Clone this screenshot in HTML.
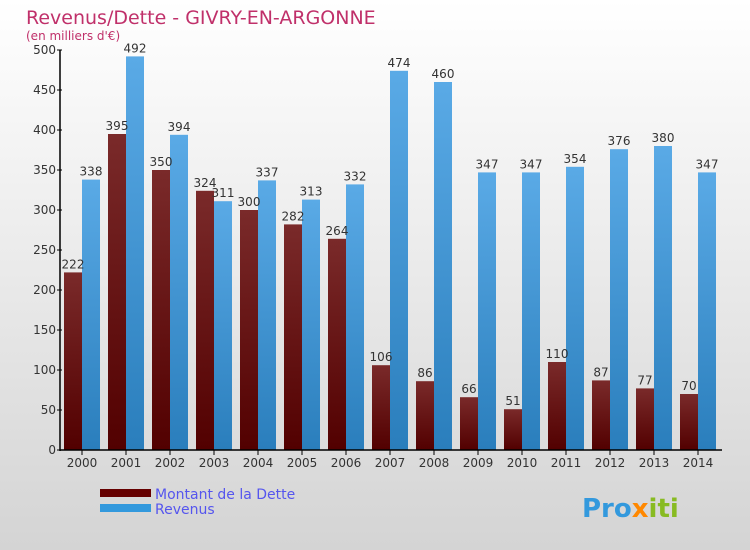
<!DOCTYPE html>
<html><head><meta charset="utf-8"><style>
body{margin:0}
#c{width:750px;height:550px;position:relative;background:linear-gradient(#ffffff,#d4d4d4);font-family:"DejaVu Sans","Liberation Sans",sans-serif;overflow:hidden}
</style></head><body>
<div id="c">
<svg width="750" height="550">
<defs>
<linearGradient id="gd" x1="0" y1="0" x2="0" y2="1"><stop offset="0" stop-color="#7a2a2a"/><stop offset="1" stop-color="#520000"/></linearGradient>
<linearGradient id="gr" x1="0" y1="0" x2="0" y2="1"><stop offset="0" stop-color="#5aaae6"/><stop offset="1" stop-color="#2a7ebc"/></linearGradient>
</defs>
<text x="26" y="24" font-size="19" fill="#c0306a">Revenus/Dette - GIVRY-EN-ARGONNE</text>
<text x="26" y="40" font-size="12" fill="#c0306a">(en milliers d'€)</text>
<g id="bars"></g>
<g id="axes"></g>
<rect x="100" y="489" width="51" height="8" fill="#660000"/>
<text x="155" y="499" font-size="14" fill="#5555ee">Montant de la Dette</text>
<rect x="100" y="504" width="51" height="8" fill="#3399dd"/>
<text x="155" y="514" font-size="14" fill="#5555ee">Revenus</text>
<text x="582" y="517" font-size="26" font-weight="bold" fill="#3399dd">Pro<tspan fill="#ff8800">x</tspan><tspan fill="#88bb22">iti</tspan></text>
</svg>
</div>
<script>
const years=["2000","2001","2002","2003","2004","2005","2006","2007","2008","2009","2010","2011","2012","2013","2014"];
const dette=[222,395,350,324,300,282,264,106,86,66,51,110,87,77,70];
const revenus=[338,492,394,311,337,313,332,474,460,347,347,354,376,380,347];
const yTicks=[0,50,100,150,200,250,300,350,400,450,500];
const NS="http://www.w3.org/2000/svg";
const y=v=>450-v*0.8;
const xc=i=>82+44*i;
function mk(t,a,p){const e=document.createElementNS(NS,t);for(const k in a)e.setAttribute(k,a[k]);p.appendChild(e);return e;}
const bars=document.getElementById('bars'),axes=document.getElementById('axes');
years.forEach((yr,i)=>{
 let r=mk('rect',{x:xc(i)-18,y:y(dette[i]),width:18,height:450-y(dette[i]),fill:'url(#gd)'},bars);
 
 
 let r2=mk('rect',{x:xc(i),y:y(revenus[i]),width:18,height:450-y(revenus[i]),fill:'url(#gr)'},bars);
 
 
 let t=mk('text',{x:xc(i)-9,y:y(dette[i])-4,'font-size':12,fill:'#333','text-anchor':'middle'},bars);t.textContent=dette[i];
 
 
 let t2=mk('text',{x:xc(i)+9,y:y(revenus[i])-4,'font-size':12,fill:'#333','text-anchor':'middle'},bars);t2.textContent=revenus[i];
 
 
 mk('line',{x1:xc(i),x2:xc(i),y1:450,y2:455,stroke:'#000'},axes);
 let xl=mk('text',{x:xc(i),y:467,'font-size':12,fill:'#333','text-anchor':'middle'},axes);xl.textContent=yr;
 
 
});
yTicks.forEach(v=>{
 mk('line',{x1:57,x2:62,y1:y(v),y2:y(v),stroke:'#000'},axes);
 let l=mk('text',{x:56,y:y(v)+4,'font-size':12,fill:'#333','text-anchor':'end'},axes);l.textContent=v;
 
 
});
let ya=mk('line',{x1:60,x2:60,y1:50,y2:451,stroke:'#000','stroke-width':1.5},axes);


let xa=mk('line',{x1:60,x2:722,y1:450,y2:450,stroke:'#000','stroke-width':1.5},axes);


</script>
</body></html>
